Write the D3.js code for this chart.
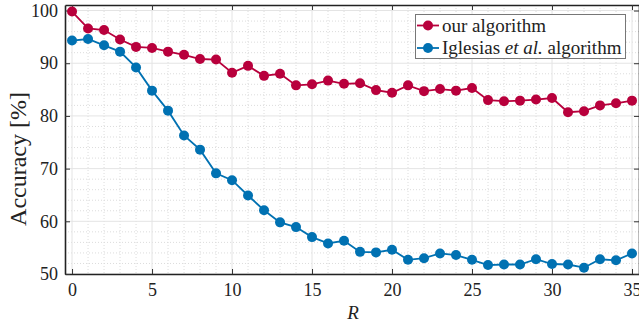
<!DOCTYPE html>
<html><head><meta charset="utf-8">
<script src="https://cdn.jsdelivr.net/npm/d3@7"></script>
<style>body{margin:0;background:#fff;} svg{display:block;}</style>
</head><body><svg id="c" width="639" height="326"></svg>
<script>
const R = d3.range(0, 36);
const ourAlgorithm = [99.8,96.6,96.3,94.5,93.1,92.9,92.2,91.6,90.8,90.7,88.2,89.5,87.6,88.0,85.8,86.0,86.7,86.1,86.2,84.9,84.4,85.8,84.7,85.1,84.8,85.3,83.0,82.8,82.9,83.1,83.4,80.7,80.9,82.0,82.4,82.9];
const iglesias = [94.3,94.6,93.4,92.2,89.2,84.8,81.0,76.3,73.6,69.1,67.8,64.9,62.1,59.8,58.9,57.0,55.8,56.3,54.2,54.1,54.6,52.7,53.0,53.9,53.6,52.7,51.7,51.8,51.8,52.8,51.9,51.8,51.2,52.8,52.6,53.9];
const seriesNames = ["our algorithm", "Iglesias et al. algorithm"];
const xTicks = [0,5,10,15,20,25,30,35];
const yTicks = [50,60,70,80,90,100];
const colors = ["#B8003C", "#0071B2"];

const svg = d3.select("#c");
const L = 65, T = 5, Rgt = 640, B = 274;
const x = d3.scaleLinear().domain([-0.44, 35.5]).range([L, Rgt]);
const y = d3.scaleLinear().domain([50, 101.05]).range([B, T]);
const font = "'Liberation Serif','Times New Roman',serif";

const g = svg.append("g");
// minor grid
g.selectAll(".mx").data(d3.range(0, 36).filter(v => v % 5 !== 0)).enter().append("line")
  .attr("x1", d => x(d)).attr("x2", d => x(d)).attr("y1", T).attr("y2", B)
  .attr("stroke", "#dcdcdc").attr("stroke-width", 1).attr("stroke-dasharray", "1,2");
g.selectAll(".my").data(d3.range(50, 101, 2).filter(v => v % 10 !== 0)).enter().append("line")
  .attr("y1", d => y(d)).attr("y2", d => y(d)).attr("x1", L).attr("x2", Rgt)
  .attr("stroke", "#dcdcdc").attr("stroke-width", 1).attr("stroke-dasharray", "1,2");
// major grid
g.selectAll(".gx").data(xTicks).enter().append("line")
  .attr("x1", d => x(d)).attr("x2", d => x(d)).attr("y1", T).attr("y2", B)
  .attr("stroke", "#e4e4e4").attr("stroke-width", 1);
g.selectAll(".gy").data(yTicks).enter().append("line")
  .attr("y1", d => y(d)).attr("y2", d => y(d)).attr("x1", L).attr("x2", Rgt)
  .attr("stroke", "#e4e4e4").attr("stroke-width", 1);

// axes
const xb = svg.append("g").attr("transform", `translate(0,${B})`)
  .call(d3.axisBottom(x).tickValues(xTicks).tickSizeInner(-5).tickSizeOuter(0).tickPadding(9));
const xt = svg.append("g").attr("transform", `translate(0,${T})`)
  .call(d3.axisTop(x).tickValues(xTicks).tickSizeInner(-5).tickSizeOuter(0).tickFormat(""));
const yl = svg.append("g").attr("transform", `translate(${L},0)`)
  .call(d3.axisLeft(y).tickValues(yTicks).tickSizeInner(-5).tickSizeOuter(0).tickPadding(7));
const yr = svg.append("g").attr("transform", `translate(${Rgt - 1},0)`)
  .call(d3.axisRight(y).tickValues(yTicks).tickSizeInner(-5).tickSizeOuter(0).tickFormat(""));
[xb, xt, yl, yr].forEach(a => {
  a.select(".domain").attr("stroke", "#222").attr("stroke-width", 1.6);
  a.selectAll(".tick line").attr("stroke", "#333").attr("stroke-width", 1);
  a.selectAll("text").attr("font-family", font).attr("font-size", 18).attr("fill", "#222");
});
xb.selectAll("text").attr("dy", "0.71em");

// series
const data = [ourAlgorithm, iglesias];
const line = d3.line().x((d, i) => x(R[i])).y(d => y(d));
data.forEach((s, k) => {
  svg.append("path").datum(s).attr("d", line).attr("fill", "none")
    .attr("stroke", colors[k]).attr("stroke-width", 1.8);
  svg.selectAll(".p" + k).data(s).enter().append("circle")
    .attr("cx", (d, i) => x(R[i])).attr("cy", d => y(d)).attr("r", 5)
    .attr("fill", colors[k]);
});

// legend
const lg = svg.append("g");
lg.append("rect").attr("x", 415.5).attr("y", 14.5).attr("width", 210).attr("height", 44)
  .attr("fill", "#fff").attr("stroke", "#777").attr("stroke-width", 1);
const rowsY = [25.5, 48];
seriesNames.forEach((n, k) => {
  lg.append("line").attr("x1", 417).attr("x2", 439).attr("y1", rowsY[k]).attr("y2", rowsY[k])
    .attr("stroke", colors[k]).attr("stroke-width", 1.8);
  lg.append("circle").attr("cx", 428).attr("cy", rowsY[k]).attr("r", 5).attr("fill", colors[k]);
  const t = lg.append("text").attr("x", 442).attr("y", rowsY[k]).attr("dy", "0.33em")
    .attr("font-family", font).attr("font-size", 19).attr("fill", "#222");
  if (k === 0) t.text(n);
  else {
    t.append("tspan").text("Iglesias ");
    t.append("tspan").attr("font-style", "italic").text("et al.");
    t.append("tspan").text(" algorithm");
  }
});

// axis labels
svg.append("text").attr("x", 353).attr("y", 319).attr("text-anchor", "middle")
  .attr("font-family", font).attr("font-style", "italic").attr("font-size", 19).attr("fill", "#222").text("R");
svg.append("text").attr("transform", "translate(26,159) rotate(-90)").attr("text-anchor", "middle")
  .attr("font-family", font).attr("font-size", 24).attr("fill", "#222").text("Accuracy [%]");
</script></body></html>
